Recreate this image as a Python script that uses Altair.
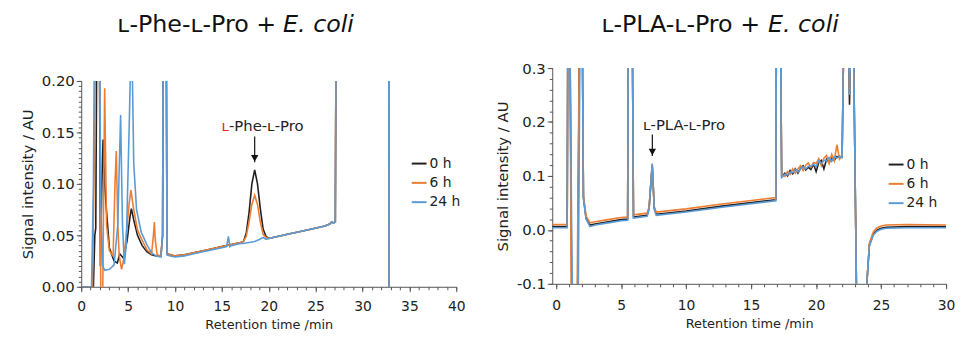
import altair as alt
import pandas as pd

# ---------------- data ----------------
SERIES = ["0 h", "6 h", "24 h"]
COLORS = ["#231f20", "#ed7d31", "#5b9bd5"]

TITLE_LEFT = "ʟ-Phe-ʟ-Pro +"
TITLE_RIGHT = "ʟ-PLA-ʟ-Pro +"
TITLE_ITALIC = "E. coli"

# Left panel: L-Phe-L-Pro + E. coli  (time min, signal AU)
PHE_0H = [(0, 0.0), (1.3, 0.0), (1.45, 0.05), (1.55, 0.057), (1.7, 0.3), (1.9, 0.3), (2.05, 0.02),
          (2.2, 0.1), (2.33, 0.143), (2.5, 0.1), (2.7, 0.073), (3.0, 0.038), (3.5, 0.025), (3.85, 0.023),
          (4.1, 0.032), (4.5, 0.028), (4.9, 0.045), (5.2, 0.068), (5.35, 0.076), (5.6, 0.065), (6.0, 0.05),
          (6.5, 0.04), (7.0, 0.034), (7.5, 0.031), (8.0, 0.030), (8.5, 0.030), (8.68, 0.05), (8.75, 0.3),
          (9.05, 0.3), (9.15, 0.032), (9.5, 0.031), (10, 0.030), (11, 0.031), (12, 0.033), (13, 0.035),
          (14, 0.037), (15, 0.039), (16, 0.041), (17, 0.043), (17.3, 0.044), (17.6, 0.052), (17.9, 0.072),
          (18.2, 0.1), (18.5, 0.1135), (18.8, 0.1), (19.1, 0.076), (19.4, 0.056), (19.7, 0.049), (20.0, 0.047),
          (22, 0.051), (24, 0.055), (26, 0.059), (26.5, 0.061), (26.7, 0.063), (26.9, 0.062), (27.1, 0.063),
          (27.2, 0.3), (32.8, 0.3), (32.85, -0.3), (40, -0.3)]
PHE_6H = [(0, 0.0), (1.2, 0.0), (1.4, 0.127), (1.6, 0.3), (1.95, 0.3), (2.1, -0.05), (2.25, -0.05),
          (2.5, 0.193), (2.7, 0.06), (3.0, 0.035), (3.4, 0.03), (3.6, 0.1), (3.74, 0.132), (3.9, 0.06),
          (4.05, 0.03), (4.3, 0.017), (4.5, 0.025), (4.8, 0.05), (5.1, 0.08), (5.3, 0.094), (5.6, 0.075),
          (6.0, 0.055), (6.5, 0.045), (7.0, 0.036), (7.5, 0.032), (7.7, 0.05), (7.8, 0.063), (7.9, 0.045),
          (8.1, 0.031), (8.5, 0.030), (8.68, 0.05), (8.75, 0.3), (9.05, 0.3), (9.15, 0.032), (9.5, 0.031),
          (10, 0.030), (11, 0.031), (12, 0.033), (13, 0.035), (14, 0.037), (15, 0.039), (16, 0.041),
          (17, 0.043), (17.3, 0.044), (17.6, 0.049), (17.9, 0.063), (18.2, 0.08), (18.5, 0.089), (18.8, 0.08),
          (19.1, 0.063), (19.4, 0.051), (19.7, 0.048), (20.0, 0.047), (22, 0.051), (24, 0.055), (26, 0.059),
          (26.5, 0.061), (26.7, 0.063), (26.9, 0.062), (27.1, 0.063), (27.2, 0.3), (32.8, 0.3),
          (32.85, -0.3), (40, -0.3)]
PHE_24H = [(0, 0.0), (1.1, 0.0), (1.3, 0.1), (1.45, 0.3), (1.9, 0.3), (2.1, 0.08), (2.3, 0.02),
           (2.5, 0.016), (3.0, 0.017), (3.5, 0.021), (3.9, 0.06), (4.2, 0.167), (4.4, 0.06), (4.6, 0.022),
           (4.8, 0.04), (5.1, 0.15), (5.25, 0.21), (5.45, 0.21), (5.6, 0.12), (5.9, 0.075), (6.4, 0.053),
           (7.0, 0.041), (7.5, 0.033), (8.0, 0.030), (8.5, 0.029), (8.68, 0.05), (8.75, 0.3), (9.05, 0.3),
           (9.15, 0.031), (9.5, 0.030), (10, 0.029), (11, 0.030), (12, 0.032), (13, 0.034), (14, 0.036),
           (15, 0.038), (15.5, 0.039), (15.7, 0.049), (15.85, 0.039), (16, 0.040), (17, 0.042),
           (17.3, 0.042), (18.5, 0.044), (19.0, 0.046), (19.4, 0.048), (19.7, 0.046), (20.0, 0.047),
           (22, 0.051), (24, 0.055), (26, 0.059), (26.5, 0.061), (26.7, 0.063), (26.9, 0.062),
           (27.1, 0.063), (27.2, 0.3), (32.8, 0.3), (32.85, -0.3), (40, -0.3)]

# Right panel: L-PLA-L-Pro + E. coli
PLA_NOISE_T = [17.4, 17.6, 17.8, 18.0, 18.2, 18.4, 18.6, 18.8, 19.0, 19.2, 19.4, 19.6,
               19.8, 20.0, 20.2, 20.4, 20.6, 20.8, 21.0, 21.2, 21.4, 21.6, 21.8]
PLA_NOISE_0H = [0.100, 0.105, 0.100, 0.110, 0.104, 0.113, 0.105, 0.114, 0.119, 0.111, 0.116, 0.112,
                0.122, 0.108, 0.125, 0.129, 0.113, 0.131, 0.125, 0.133, 0.129, 0.136, 0.134]
PLA_NOISE_6H = [0.102, 0.099, 0.108, 0.103, 0.113, 0.105, 0.113, 0.119, 0.110, 0.120, 0.124, 0.116,
                0.125, 0.123, 0.132, 0.119, 0.133, 0.138, 0.123, 0.140, 0.128, 0.158, 0.131]
PLA_NOISE_24H = [0.098, 0.103, 0.102, 0.107, 0.106, 0.112, 0.107, 0.113, 0.117, 0.113, 0.118, 0.118,
                 0.122, 0.117, 0.128, 0.123, 0.129, 0.128, 0.134, 0.127, 0.136, 0.133, 0.137]

PLA_0H_A = [(-0.3, 0.006), (0.85, 0.006), (0.9, 0.4), (1.05, 0.4), (1.25, -0.3), (1.6, -0.3), (1.8, 0.4),
            (2.0, 0.4), (2.1, 0.06), (2.3, 0.022), (2.6, 0.009), (3.0, 0.011), (4.0, 0.015), (5.0, 0.019),
            (5.5, 0.020), (5.55, 0.4), (5.85, 0.4), (5.95, 0.024), (7.0, 0.027), (7.15, 0.04), (7.39, 0.121),
            (7.55, 0.04), (7.7, 0.029), (10, 0.035), (12.76, 0.044), (16.9, 0.056), (16.95, 0.4),
            (17.25, 0.4), (17.35, 0.1)]
PLA_0H_B = [(22.0, 0.135), (22.15, 0.4), (22.45, 0.4), (22.57, 0.232), (22.7, 0.4), (22.85, 0.4),
            (23.2, -0.3), (23.8, -0.3), (23.9, -0.1), (24.1, -0.028), (24.4, -0.008), (24.65, -0.001),
            (25.0, 0.003), (25.4, 0.005), (27, 0.006), (30, 0.006)]
PLA_6H_A = [(-0.3, 0.010), (0.85, 0.010), (0.9, 0.4), (1.05, 0.4), (1.2, -0.3), (1.55, -0.3), (1.8, 0.4),
            (2.0, 0.4), (2.1, 0.064), (2.3, 0.026), (2.6, 0.013), (3.0, 0.015), (4.0, 0.019), (5.0, 0.023),
            (5.5, 0.024), (5.55, 0.4), (5.85, 0.4), (5.95, 0.028), (7.0, 0.031), (7.15, 0.043), (7.39, 0.12),
            (7.55, 0.043), (7.7, 0.033), (10, 0.039), (12.76, 0.048), (16.9, 0.060), (16.95, 0.4),
            (17.25, 0.4), (17.35, 0.102)]
PLA_6H_B = [(22.0, 0.137), (22.15, 0.4), (22.45, 0.4), (22.57, 0.255), (22.7, 0.4), (22.85, 0.4),
            (23.2, -0.3), (23.8, -0.3), (23.9, -0.1), (24.1, -0.024), (24.4, -0.004), (24.65, 0.003),
            (25.0, 0.007), (25.4, 0.009), (27, 0.010), (30, 0.009)]
PLA_24H_A = [(-0.3, 0.004), (0.85, 0.004), (0.9, 0.4), (1.05, 0.4), (1.3, -0.3), (1.65, -0.3), (1.85, 0.4),
             (2.0, 0.4), (2.1, 0.058), (2.3, 0.02), (2.6, 0.006), (3.0, 0.009), (4.0, 0.013), (5.0, 0.017),
             (5.5, 0.018), (5.55, 0.4), (5.85, 0.4), (5.95, 0.022), (7.0, 0.025), (7.15, 0.038), (7.39, 0.123),
             (7.55, 0.038), (7.7, 0.027), (10, 0.033), (12.76, 0.042), (16.9, 0.054), (16.95, 0.4),
             (17.25, 0.4), (17.35, 0.097)]
PLA_24H_B = [(22.0, 0.134), (22.15, 0.4), (22.45, 0.4), (22.57, 0.25), (22.7, 0.4), (22.85, 0.4),
             (23.2, -0.3), (23.8, -0.3), (23.9, -0.1), (24.1, -0.03), (24.4, -0.01), (24.65, -0.003),
             (25.0, 0.001), (25.4, 0.003), (27, 0.004), (30, 0.004)]

# annotations (time, signal)
PHE_ARROW = {"t": 18.5, "top": 0.146, "tip": 0.121, "text_y": 0.151}
PLA_ARROW = {"t": 7.4, "top": 0.177, "tip": 0.137, "text_y": 0.1845}
PHE_LABEL_RED = "ʟ"
PHE_LABEL_REST = "-Phe-ʟ-Pro"
PLA_LABEL = "ʟ-PLA-ʟ-Pro"

# axis ticks
PHE_X_MAJOR = list(range(0, 41, 5))
PHE_X_MINOR = list(range(0, 41))
PHE_Y_MAJOR = [i / 100 for i in range(0, 21, 5)]
PHE_Y_MINOR = [i / 1000 for i in range(0, 201, 5)]
PLA_X_MAJOR = list(range(0, 31, 5))
PLA_X_MINOR = list(range(0, 31))
PLA_Y_MAJOR = [i / 10 for i in range(-1, 4)]
PLA_Y_MINOR = [i / 100 for i in range(-10, 31, 2)]

FONT = "DejaVu Sans"


def frame(series_pairs):
    rows = []
    for name, pairs in series_pairs:
        for i, (t, v) in enumerate(pairs):
            rows.append({"series": name, "t": t, "v": v, "i": i})
    return pd.DataFrame(rows)


phe_df = frame([("0 h", PHE_0H), ("6 h", PHE_6H), ("24 h", PHE_24H)])
pla_df = frame([
    ("0 h", PLA_0H_A + list(zip(PLA_NOISE_T, PLA_NOISE_0H)) + PLA_0H_B),
    ("6 h", PLA_6H_A + list(zip(PLA_NOISE_T, PLA_NOISE_6H)) + PLA_6H_B),
    ("24 h", PLA_24H_A + list(zip(PLA_NOISE_T, PLA_NOISE_24H)) + PLA_24H_B),
])


def panel(df, xdom, xmaj, xmin, ydom, ymaj, ymin, yfmt_expr, legend_xy, xpad, extra, w, h):
    xs = alt.Scale(domain=xdom, nice=False, zero=False)
    ys = alt.Scale(domain=ydom, nice=False, zero=False)
    xaxis = alt.Axis(values=xmaj, title="Retention time /min", labelOverlap=False, labelFlush=False,
                     tickSize=5, labelPadding=xpad, titlePadding=5, grid=False, orient="bottom")
    yaxis = alt.Axis(values=ymaj, title="Signal intensity / AU", labelOverlap=False, labelFlush=False,
                     labelExpr=yfmt_expr, tickSize=5, labelPadding=2, titlePadding=6, grid=False,
                     orient="left")
    x = alt.X("t:Q", scale=xs, axis=xaxis)
    y = alt.Y("v:Q", scale=ys, axis=yaxis)
    color = alt.Color(
        "series:N",
        scale=alt.Scale(domain=SERIES, range=COLORS),
        legend=alt.Legend(
            orient="none", legendX=legend_xy[0], legendY=legend_xy[1], title=None,
            symbolType="stroke", symbolSize=225, symbolStrokeWidth=2,
            labelFont=FONT, labelFontSize=14, labelColor="#222", labelOffset=2,
            rowPadding=3.5, padding=0,
            labelExpr="datum.label == '24 h' ? datum.label : '\u2007' + datum.label",
        ),
    )
    layers = []
    for name in SERIES:
        layers.append(
            alt.Chart(df).transform_filter(alt.datum.series == name)
            .mark_line(clip=True, strokeWidth=1.6)
            .encode(x=x, y=y, color=color, order="i:Q")
        )
    main = alt.layer(*layers, *extra)
    corners = pd.DataFrame({"t": xdom, "v": ydom})
    minor = alt.Chart(corners).mark_point(opacity=0, clip=True).encode(
        x=alt.X("t:Q", scale=xs, axis=alt.Axis(values=xmin, labels=False, tickSize=3, domain=False,
                                              title=None, grid=False, orient="bottom")),
        y=alt.Y("v:Q", scale=ys, axis=alt.Axis(values=ymin, labels=False, tickSize=3, domain=False,
                                              title=None, grid=False, orient="left")),
    )
    return alt.layer(main, minor).resolve_scale(x="independent", y="independent").properties(
        width=w, height=h)


# ---------------- left panel ----------------
phe_arrow_df = pd.DataFrame([PHE_ARROW])
left_arrow = alt.Chart(phe_arrow_df).mark_rule(color="#111", strokeWidth=1.2).encode(
    x="t:Q", y="top:Q", y2="tip:Q")
left_head = alt.Chart(phe_arrow_df).mark_point(
    shape="triangle-down", filled=True, color="#111", size=55, opacity=1).encode(
    x="t:Q", y="tip:Q", yOffset=alt.value(-4))
left_lab_red = alt.Chart(phe_arrow_df.assign(label=PHE_LABEL_RED)).mark_text(
    align="right", baseline="alphabetic", dx=-26, font=FONT, fontSize=15, color="#e3231c").encode(
    x="t:Q", y="text_y:Q", text="label:N")
left_lab_rest = alt.Chart(phe_arrow_df.assign(label=PHE_LABEL_REST)).mark_text(
    align="left", baseline="alphabetic", dx=-26, font=FONT, fontSize=15, color="#222").encode(
    x="t:Q", y="text_y:Q", text="label:N")

left_panel = panel(
    phe_df, [0, 40], PHE_X_MAJOR, PHE_X_MINOR, [0, 0.2], PHE_Y_MAJOR, PHE_Y_MINOR,
    "format(datum.value, '.2f')", (333, 88), 8,
    [left_arrow, left_head, left_lab_red, left_lab_rest], 379, 208,
)

left_title_a = alt.Chart(pd.DataFrame({"label": [TITLE_LEFT]})).mark_text(
    align="right", baseline="alphabetic", font=FONT, fontSize=24, color="#111").encode(
    x=alt.value(197), y=alt.value(-36), text="label:N")
left_title_b = alt.Chart(pd.DataFrame({"label": [TITLE_ITALIC]})).mark_text(
    align="left", baseline="alphabetic", font=FONT, fontSize=24, fontStyle="italic", color="#111").encode(
    x=alt.value(204), y=alt.value(-36), text="label:N")
left_header = alt.layer(left_title_a, left_title_b).properties(width=379, height=6)

left = alt.vconcat(left_header, left_panel, spacing=0)

# ---------------- right panel ----------------
pla_arrow_df = pd.DataFrame([PLA_ARROW])
right_arrow = alt.Chart(pla_arrow_df).mark_rule(color="#111", strokeWidth=1.2).encode(
    x="t:Q", y="top:Q", y2="tip:Q")
right_head = alt.Chart(pla_arrow_df).mark_point(
    shape="triangle-down", filled=True, color="#111", size=55, opacity=1).encode(
    x="t:Q", y="tip:Q", yOffset=alt.value(-4))
right_lab = alt.Chart(pla_arrow_df.assign(label=PLA_LABEL)).mark_text(
    align="center", baseline="alphabetic", dx=32, font=FONT, fontSize=15, color="#222").encode(
    x="t:Q", y="text_y:Q", text="label:N")
right_title_a = alt.Chart(pd.DataFrame({"label": [TITLE_RIGHT]})).mark_text(
    align="right", baseline="alphabetic", font=FONT, fontSize=24, color="#111").encode(
    x=alt.value(210), y=alt.value(-36), text="label:N")
right_title_b = alt.Chart(pd.DataFrame({"label": [TITLE_ITALIC]})).mark_text(
    align="left", baseline="alphabetic", font=FONT, fontSize=24, fontStyle="italic", color="#111").encode(
    x=alt.value(218), y=alt.value(-36), text="label:N")

right = panel(
    pla_df, [-0.3, 30], PLA_X_MAJOR, PLA_X_MINOR, [-0.1, 0.3], PLA_Y_MAJOR, PLA_Y_MINOR,
    "replace(format(datum.value, '.1f'), '−', '-')", (339, 89), 10,
    [right_arrow, right_head, right_lab, right_title_a, right_title_b], 398, 218,
)

chart = (
    alt.hconcat(left, right, spacing=30)
    .resolve_scale(x="independent", y="independent", color="independent")
    .resolve_legend(color="independent")
    .properties(padding={"left": 12, "top": 4, "right": 0, "bottom": 0})
    .configure_view(stroke=None)
    .configure_axis(
        labelFont=FONT, titleFont=FONT, labelFontSize=14, titleFontSize=14,
        labelColor="#222", titleColor="#222", titleFontWeight="normal",
        domainColor="#555", tickColor="#555", domainWidth=1, tickWidth=1,
    )
    .configure_axisX(labelFontSize=14, titleFontSize=13)
    .configure_axisY(labelFontSize=15, titleFontSize=15)
)

chart.save("out.html", embed_options={"renderer": "svg", "actions": False})
